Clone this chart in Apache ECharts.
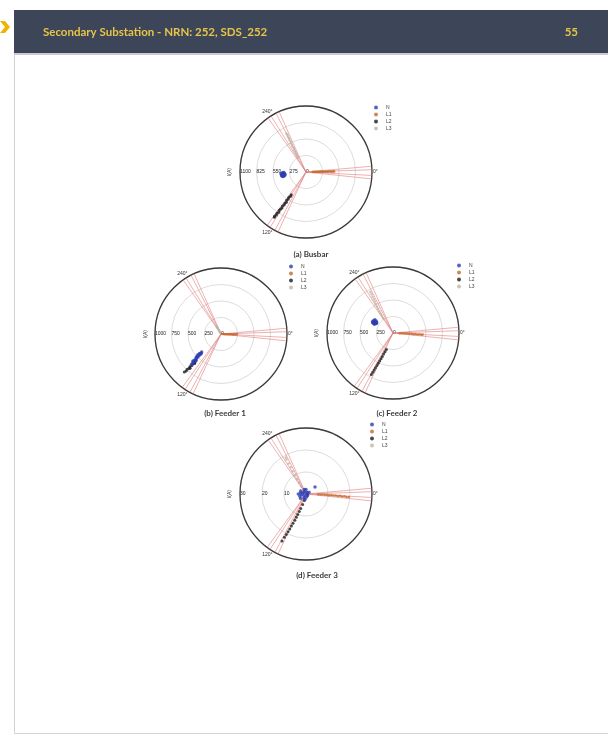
<!DOCTYPE html>
<html><head><meta charset="utf-8">
<script src="https://cdn.jsdelivr.net/npm/echarts@6/dist/echarts.min.js"></script>
<style>html,body{margin:0;padding:0;background:#fff}#c{width:608px;height:736px}</style>
</head><body><div id="c"></div><script>
// Phase current phasors per measuring point: [magnitude (A), angle (deg)]
const panels = ['(a) Busbar', '(b) Feeder 1', '(c) Feeder 2', '(d) Feeder 3'];
const phases = ['N', 'L1', 'L2', 'L3'];
const radiusMax = [1100, 1000, 1000, 30];
const radiusStep = [275, 250, 250, 10];
const angleLabels = { '0': '0°', '120': '120°', '-120': '240°' };
const guideBase = [0, 120, 240];
const guideOffsets = [-5, -2, 3, 6];

const busbarN = [[360,171],[372,173],[385,172],[398,174],[410,173],[365,176],[380,175],[395,177],[405,170],[390,169],[375,170],[352,174],[418,176],[388,178],[370,179],[400,172]];
const busbarL1 = [[110,359],[130,358.5],[150,359.5],[170,358],[190,359],[210,358.5],[230,359.2],[250,358],[270,358.8],[290,359.5],[310,358.3],[330,359],[350,358.6],[370,359.3],[390,358.2],[410,358.8],[430,359.4],[450,358.5],[470,359]];
const busbarL2 = [[450,123],[480,122.5],[510,124],[540,123.2],[570,124.5],[600,123],[630,124],[660,123.5],[690,124.8],[720,123.8],[750,124.5],[780,125],[810,124.2],[840,125.3],[870,124.6],[900,125.5],[920,125]];
const busbarL3 = [[270,241],[300,240.5],[330,242],[360,241.2],[390,242.5],[420,241.5],[450,242.8],[480,241.8],[510,243],[540,242.2],[570,243.4],[600,242.5],[630,243.5],[660,242.8],[690,243.6],[720,243]];

const feeder1N = [[400,137],[420,136],[440,137.5],[460,135.5],[480,136.5],[500,135],[520,136],[540,134.5],[560,135.5],[580,134],[600,134.8],[620,133.5],[640,134.2],[430,135],[470,138],[510,137],[550,133.8],[590,136]];
const feeder1L1 = [[20,2],[40,1],[60,2.5],[80,1.5],[100,2],[120,1],[140,2.2],[160,1.4],[180,2],[200,1.2],[220,1.8],[240,1]];
const feeder1L2 = [[560,133],[590,132.5],[620,133.5],[650,132.8],[680,133.6],[710,133],[740,133.8],[770,133.2],[800,134],[600,131.8],[700,132]];
const feeder1L3 = [[20,238],[40,239],[60,240],[80,239.5],[100,241],[120,240.2],[140,241.5]];

const feeder2N = [[290,210],[305,208],[320,211],[335,209],[350,212],[300,214],[315,215],[330,213],[345,207],[310,205],[325,206],[340,216],[295,212],[355,209]];
const feeder2L1 = [[100,1.5],[130,2.5],[160,1.8],[190,2.8],[220,2],[250,3],[280,2.2],[310,3.2],[340,2.5],[370,3.4],[400,2.8],[430,3.5],[450,3]];
const feeder2L2 = [[270,112],[310,113],[350,114],[390,114.5],[430,115],[470,115.5],[510,116],[550,116.3],[590,116.8],[630,117],[670,117.2],[710,117.5]];
const feeder2L3 = [[270,236],[310,237],[350,237.5],[390,238],[430,238.5],[470,239],[510,239.5],[550,240],[590,240.3],[630,240.6],[670,241],[710,241]];

const feeder3N = [[1.0,150],[1.5,200],[2.0,170],[2.5,190],[3.0,160],[1.2,230],[1.8,120],[2.2,250],[0.8,300],[1.4,80],[2.8,210],[3.2,140],[0.6,20],[2.0,270],[1.6,330],[3.5,180],[2.4,100],[1.0,45],[5.2,322]];
const feeder3L1 = [[5.5,1],[6.5,2],[7.5,1.5],[8.5,2.5],[9.5,2],[10.5,3],[11.5,2.2],[12.5,3.2],[13.5,2.8],[14.5,3.5],[15.5,3],[16.5,4],[17.5,3.5],[18.5,4.2],[19.5,4]];
const feeder3L2 = [[3,105],[5,108],[7,110],[8.5,111],[10,112],[11.5,112.5],[13,113],[14.5,114],[16,114.5],[17.5,115],[19,115.5],[20.5,116],[22,116.5],[24,117]];
const feeder3L3 = [[2,236],[4,237],[6,238],[8,238.5],[10,239],[12,239.5],[14,240],[16,240.3],[18,240.6],[19,241]];

const panelData = [
  { N: busbarN, L1: busbarL1, L2: busbarL2, L3: busbarL3 },
  { N: feeder1N, L1: feeder1L1, L2: feeder1L2, L3: feeder1L3 },
  { N: feeder2N, L1: feeder2L1, L2: feeder2L2, L3: feeder2L3 },
  { N: feeder3N, L1: feeder3L1, L2: feeder3L2, L3: feeder3L3 }
];

// layout
const centers = [[306,172],[221,334],[393,333],[306,494]];
const R = 66;
const legendPos = [[374,105],[289,264],[457,263],[370,422]];
const captionPos = [[311,254],[225,413],[397,413],[317,575]];
const ylabelPos = [[230,172],[146,334],[317,333],[230,494]];
const phaseColor = { N: '#2e3db2', L1: '#c4692c', L2: '#1b1b1b', L3: '#bdb5a6' };
const phaseSize = { N: 3.5, L1: 2.5, L2: 3, L3: 2.5 };
const drawOrder = ['L3', 'L1', 'L2', 'N'];

// angles are shown clockwise from the right; the axis runs -180..180 so the radial labels sit on the left
const wrap = a => { a = ((a % 360) + 360) % 360; return a > 180 ? a - 360 : a; };

const polar = [], angleAxis = [], radiusAxis = [], series = [], legend = [], graphic = [];
panels.forEach((name, i) => {
  polar.push({ center: centers[i], radius: R });
  angleAxis.push({
    polarIndex: i, type: 'value', min: -180, max: 180, interval: 60,
    startAngle: 180, clockwise: true,
    axisLine: { lineStyle: { color: '#3a3a3a', width: 1.3 } },
    axisTick: { show: false }, splitLine: { show: false },
    axisLabel: { fontSize: 5, color: '#333', margin: 1, fontFamily: 'Liberation Sans',
      formatter: v => angleLabels[String(v)] || '' }
  });
  radiusAxis.push({
    polarIndex: i, type: 'value', min: 0, max: radiusMax[i], interval: radiusStep[i],
    axisLine: { show: false }, axisTick: { show: false },
    splitLine: { lineStyle: { color: '#c4c4c4', width: 0.6 } },
    axisLabel: { fontSize: 5, color: '#222', align: 'left', verticalAlign: 'middle', margin: 0,
      fontFamily: 'Liberation Sans', formatter: v => String(v) }
  });
  guideBase.forEach(b => guideOffsets.forEach(o => {
    series.push({
      type: 'line', coordinateSystem: 'polar', polarIndex: i, silent: true, symbol: 'none',
      lineStyle: { color: '#e07c7c', width: 0.6 }, z: 1,
      data: [[0, wrap(b + o)], [radiusMax[i], wrap(b + o)]]
    });
  }));
  drawOrder.forEach(p => {
    series.push({
      name: p, type: 'scatter', coordinateSystem: 'polar', polarIndex: i, z: 3,
      symbolSize: phaseSize[p], itemStyle: { color: phaseColor[p] },
      data: panelData[i][p].map(([r, a]) => [r, wrap(a)])
    });
  });
  legend.push({
    data: phases, orient: 'vertical', left: legendPos[i][0], top: legendPos[i][1],
    itemWidth: 4, itemHeight: 4, itemGap: 2, padding: 0, icon: 'circle',
    textStyle: { fontSize: 5, color: '#444', padding: [0, 0, 0, 3] }
  });
  graphic.push({ type: 'text', x: captionPos[i][0], y: captionPos[i][1],
    style: { text: name, fontSize: 8, fill: '#3a3a3a', fontFamily: 'Lato', fontWeight: 'bold',
      textAlign: 'center', textVerticalAlign: 'middle' } });
  graphic.push({ type: 'text', x: ylabelPos[i][0], y: ylabelPos[i][1], rotation: Math.PI / 2,
    style: { text: 'I(A)', fontSize: 5, fill: '#333', fontFamily: 'Liberation Sans',
      textAlign: 'center', textVerticalAlign: 'middle' } });
});

// page frame and header band
graphic.unshift(
  { type: 'rect', shape: { x: 14.5, y: 10.5, width: 600, height: 723 }, style: { fill: '#fff', stroke: '#d2d2d2', lineWidth: 1 }, z: -10 },
  { type: 'rect', shape: { x: 14, y: 10, width: 600, height: 43 }, style: { fill: '#3d4658' }, z: -5 },
  { type: 'rect', shape: { x: 14, y: 53, width: 600, height: 2 }, style: { fill: '#c8ccd2' }, z: -5 },
  { type: 'polygon', shape: { points: [[0,21],[5,21],[10,27],[5,33],[0,33],[5,27]] }, style: { fill: '#f0b400' } },
  { type: 'text', x: 43, y: 32, style: { text: 'Secondary Substation - NRN: 252, SDS_252', fontSize: 11.5,
    fontWeight: 'bold', fill: '#e6c54a', fontFamily: 'Lato', textVerticalAlign: 'middle' } },
  { type: 'text', x: 578, y: 32, style: { text: '55', fontSize: 11.5, fontWeight: 'bold', fill: '#e6c54a',
    fontFamily: 'Lato', textAlign: 'right', textVerticalAlign: 'middle' } }
);

const chart = echarts.init(document.getElementById('c'), null, { renderer: 'canvas' });
chart.setOption({
  animation: false, backgroundColor: '#fff',
  polar, angleAxis, radiusAxis, series, legend, graphic
});
</script></body></html>
